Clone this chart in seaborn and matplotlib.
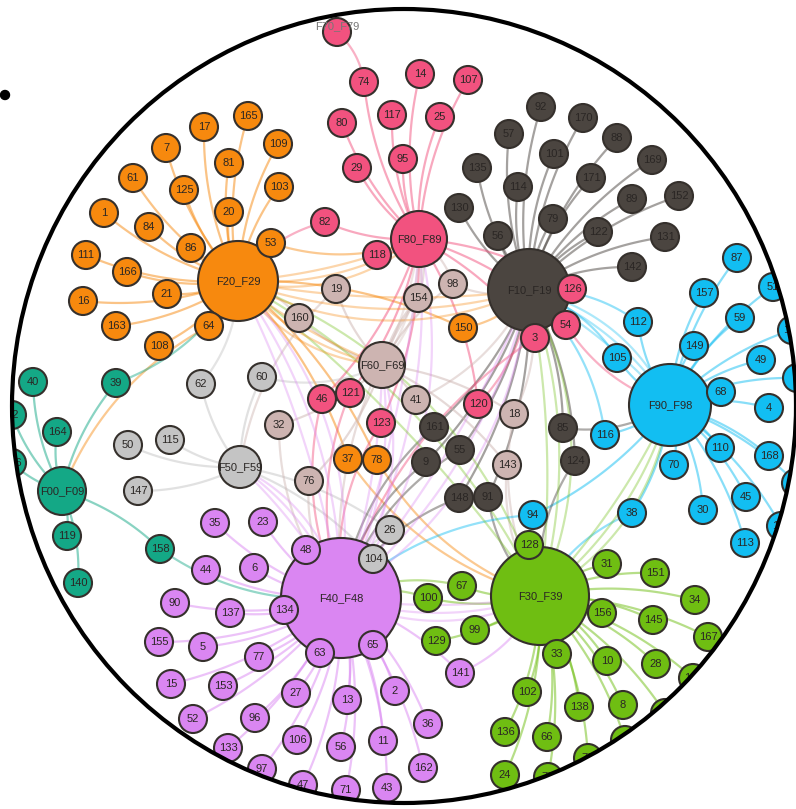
import numpy as np
import pandas as pd
import matplotlib
matplotlib.use("Agg")
import matplotlib.pyplot as plt
from matplotlib.patches import Ellipse, Circle, PathPatch
from matplotlib.path import Path
from matplotlib.collections import LineCollection
from matplotlib.colors import to_rgba
import seaborn as sns

sns.set_theme(style="white")
plt.rcParams["font.family"] = ["Liberation Sans", "DejaVu Sans"]

# ---- diagnosis-block hubs (layout position in px, radius in px) ----
HUB_NAMES = ["F00_F09", "F10_F19", "F20_F29", "F30_F39", "F40_F48",
             "F50_F59", "F60_F69", "F70_F79", "F80_F89", "F90_F98"]
HUB_POS = [(62, 491), (529, 290), (238, 281), (540, 596), (341, 598),
           (240, 467), (382, 365), (337, 32), (419, 239), (670, 405)]
HUB_R = [24, 41, 40, 49, 60, 21, 23, 14, 28, 41]

# ---- leaf nodes per block ----
F00_LEAVES = ["40", "39", "164", "119", "140", "158", "12", "146"]
F00_POS = [(33, 382), (116, 383), (57, 432), (67, 536), (78, 583),
           (160, 549), (12, 415), (12, 463)]

F10_LEAVES = ["92", "170", "88", "101", "169", "171", "89", "152", "79",
              "122", "131", "142", "57", "135", "114", "130", "56", "161",
              "55", "9", "148", "91", "85", "124"]
F10_POS = [(541, 107), (583, 118), (617, 138), (554, 154), (652, 160),
           (591, 178), (632, 199), (679, 196), (553, 219), (598, 232),
           (665, 237), (632, 267), (509, 134), (477, 168), (518, 187),
           (459, 208), (498, 236), (434, 427), (460, 450), (426, 462),
           (459, 498), (488, 497), (563, 428), (575, 461)]

F20_LEAVES = ["165", "17", "7", "81", "61", "125", "20", "1", "84", "86",
              "111", "109", "103", "53", "166", "16", "21", "163", "64",
              "108", "150", "37", "78"]
F20_POS = [(248, 116), (204, 127), (166, 148), (229, 163), (133, 178),
           (184, 190), (229, 212), (104, 213), (149, 227), (191, 248),
           (86, 255), (278, 144), (279, 187), (271, 243), (127, 272),
           (83, 301), (167, 294), (116, 326), (209, 326), (159, 346),
           (463, 328), (348, 459), (377, 460)]

F30_LEAVES = ["128", "31", "151", "34", "156", "145", "167", "33", "10",
              "28", "132", "102", "138", "8", "42", "66", "22", "72", "73",
              "136", "24", "100", "67", "99", "129"]
F30_POS = [(529, 545), (607, 564), (655, 573), (695, 600), (602, 613),
           (653, 620), (708, 637), (557, 654), (607, 661), (656, 664),
           (693, 678), (527, 692), (579, 707), (623, 705), (665, 713),
           (547, 737), (625, 740), (588, 758), (548, 777), (505, 732),
           (505, 775), (428, 598), (462, 586), (475, 630), (436, 641)]

F40_LEAVES = ["35", "23", "44", "6", "90", "137", "155", "5", "77", "15",
              "153", "52", "96", "133", "97", "48", "134", "63", "65", "27",
              "13", "2", "36", "106", "56", "11", "162", "47", "71", "43",
              "141"]
F40_POS = [(215, 523), (263, 522), (206, 570), (254, 568), (175, 603),
           (230, 613), (159, 642), (203, 647), (259, 657), (171, 684),
           (223, 686), (193, 719), (255, 718), (228, 748), (262, 769),
           (306, 550), (284, 610), (320, 653), (373, 645), (296, 693),
           (347, 700), (395, 691), (428, 724), (297, 740), (341, 747),
           (383, 741), (423, 768), (303, 785), (346, 790), (387, 788),
           (460, 673)]

F50_LEAVES = ["62", "60", "50", "115", "147", "26", "104"]
F50_POS = [(201, 384), (262, 377), (128, 445), (170, 440), (138, 491),
           (390, 530), (373, 559)]

F60_LEAVES = ["19", "154", "98", "160", "41", "18", "143", "32", "76"]
F60_POS = [(336, 289), (418, 298), (453, 284), (299, 318), (416, 400),
           (514, 414), (507, 465), (279, 425), (309, 481)]

F80_LEAVES = ["74", "14", "107", "80", "117", "25", "29", "95", "82",
              "118", "126", "54", "3", "46", "121", "123", "120"]
F80_POS = [(364, 82), (420, 74), (468, 80), (342, 123), (392, 115),
           (440, 117), (357, 168), (403, 159), (325, 222), (377, 255),
           (572, 289), (566, 325), (535, 338), (322, 399), (350, 393),
           (381, 423), (478, 404)]

# nodes cut by the right rim carry an empty label
F90_LEAVES = ["87", "157", "51", "112", "59", "14", "149", "105", "49",
              "68", "4", "", "116", "110", "168", "", "70", "45",
              "94", "38", "30", "127", "113"]
F90_POS = [(737, 258), (704, 293), (773, 287), (638, 322), (740, 318),
           (792, 330), (694, 346), (617, 358), (761, 360), (721, 392),
           (769, 408), (797, 378), (605, 435), (720, 448), (769, 456),
           (796, 483), (674, 465), (746, 497), (533, 515), (632, 513),
           (703, 510), (781, 526), (745, 543)]

LEAVES = {
    "F00_F09": (F00_LEAVES, F00_POS), "F10_F19": (F10_LEAVES, F10_POS),
    "F20_F29": (F20_LEAVES, F20_POS), "F30_F39": (F30_LEAVES, F30_POS),
    "F40_F48": (F40_LEAVES, F40_POS), "F50_F59": (F50_LEAVES, F50_POS),
    "F60_F69": (F60_LEAVES, F60_POS), "F80_F89": (F80_LEAVES, F80_POS),
    "F90_F98": (F90_LEAVES, F90_POS),
}

# links from a leaf to a second block
CROSS_LINKS = [
    ("F20_F29", "53", "F80_F89"),
    ("F20_F29", "150", "F10_F19"), ("F20_F29", "37", "F30_F39"),
    ("F20_F29", "78", "F30_F39"), ("F20_F29", "64", "F00_F09"),
    ("F80_F89", "82", "F20_F29"), ("F80_F89", "46", "F40_F48"),
    ("F80_F89", "121", "F40_F48"), ("F80_F89", "123", "F40_F48"),
    ("F80_F89", "120", "F10_F19"), ("F80_F89", "54", "F90_F98"),
    ("F80_F89", "126", "F10_F19"), ("F80_F89", "3", "F40_F48"),
    ("F60_F69", "154", "F80_F89"), ("F60_F69", "154", "F40_F48"),
    ("F60_F69", "98", "F80_F89"), ("F60_F69", "98", "F10_F19"),
    ("F60_F69", "41", "F10_F19"), ("F60_F69", "18", "F10_F19"),
    ("F60_F69", "18", "F30_F39"), ("F60_F69", "143", "F30_F39"),
    ("F60_F69", "32", "F40_F48"), ("F60_F69", "76", "F40_F48"),
    ("F60_F69", "160", "F20_F29"), ("F60_F69", "19", "F50_F59"),
    ("F10_F19", "161", "F40_F48"), ("F10_F19", "55", "F40_F48"),
    ("F10_F19", "9", "F40_F48"), ("F10_F19", "148", "F40_F48"),
    ("F10_F19", "91", "F30_F39"), ("F10_F19", "85", "F90_F98"),
    ("F10_F19", "124", "F30_F39"),
    ("F90_F98", "94", "F30_F39"), ("F90_F98", "94", "F40_F48"),
    ("F90_F98", "116", "F10_F19"), ("F90_F98", "105", "F10_F19"),
    ("F90_F98", "112", "F10_F19"), ("F90_F98", "38", "F30_F39"),
    ("F50_F59", "26", "F40_F48"), ("F50_F59", "104", "F40_F48"),
    ("F50_F59", "62", "F20_F29"), ("F50_F59", "60", "F60_F69"),
    ("F00_F09", "39", "F20_F29"), ("F00_F09", "158", "F40_F48"),
    ("F30_F39", "100", "F40_F48"), ("F30_F39", "67", "F40_F48"),
    ("F40_F48", "141", "F30_F39"), ("F80_F89", "74", "F70_F79"),
]

# links between blocks
HUB_LINKS = [
    ("F40_F48", "F10_F19"), ("F40_F48", "F80_F89"), ("F30_F39", "F10_F19"),
    ("F30_F39", "F20_F29"), ("F90_F98", "F10_F19"), ("F30_F39", "F90_F98"),
    ("F20_F29", "F80_F89"), ("F20_F29", "F10_F19"), ("F40_F48", "F50_F59"),
    ("F40_F48", "F60_F69"), ("F60_F69", "F80_F89"), ("F40_F48", "F30_F39"),
    ("F20_F29", "F60_F69"), ("F40_F48", "F20_F29"),
]

PALETTE = {
    "F00_F09": "#14A886", "F10_F19": "#4B4540", "F20_F29": "#F7890E",
    "F30_F39": "#6FBE12", "F40_F48": "#DA86F2", "F50_F59": "#C4C4C4",
    "F60_F69": "#CDB4B1", "F70_F79": "#F2527F", "F80_F89": "#F2527F",
    "F90_F98": "#12BEF2",
}

# ---- node table ----
rows = []
for name, (hx, hy), r in zip(HUB_NAMES, HUB_POS, HUB_R):
    rows.append(dict(key=name, label=name, group=name, x=hx, y=hy, r=r, hub=True))
for grp, (labels, pos) in LEAVES.items():
    for i, (lab, (lx, ly)) in enumerate(zip(labels, pos)):
        key = f"{grp}:{lab}" if lab else f"{grp}:#{i}"
        rows.append(dict(key=key, label=lab, group=grp,
                         x=lx, y=ly, r=14, hub=False))
nodes = pd.DataFrame(rows)
PX2PT = 72 / 100
nodes["area"] = (2 * nodes["r"] * PX2PT) ** 2
xy = {k: (x, y) for k, x, y in zip(nodes["key"], nodes["x"], nodes["y"])}


def bezier(p0, p2, bend, n=40):
    p0 = np.asarray(p0, float)
    p2 = np.asarray(p2, float)
    d = p2 - p0
    c = (p0 + p2) / 2 + bend * np.array([-d[1], d[0]])
    t = np.linspace(0, 1, n)[:, None]
    return (1 - t) ** 2 * p0 + 2 * (1 - t) * t * c + t ** 2 * p2


segs, cols = [], []
for _, row in nodes[~nodes["hub"]].iterrows():
    segs.append(bezier((row["x"], row["y"]), xy[row["group"]], 0.12))
    cols.append(to_rgba(PALETTE[row["group"]], 0.5))
for grp, lab, target in CROSS_LINKS:
    segs.append(bezier(xy[f"{grp}:{lab}"], xy[target], 0.18))
    cols.append(to_rgba(PALETTE[grp], 0.45))
for a, b in HUB_LINKS:
    for bend in (0.08, 0.16, 0.24):
        segs.append(bezier(xy[a], xy[b], bend))
        cols.append(to_rgba(PALETTE[a], 0.35))

# ---- figure ----
W, H = 796, 809
CX, CY, EW, EH = 404, 406, 784, 794

fig = plt.figure(figsize=(W / 100, H / 100), dpi=100)
ax = fig.add_axes([0, 0, 1, 1])
ax.set_xlim(0, W)
ax.set_ylim(H, 0)
ax.set_aspect("equal")
ax.axis("off")

lc = LineCollection(segs, colors=cols, linewidths=1.6, zorder=1)
ax.add_collection(lc)

amin, amax = nodes["area"].min(), nodes["area"].max()
sns.scatterplot(data=nodes, x="x", y="y", hue="group", palette=PALETTE,
                size="area", sizes=(amin, amax), size_norm=(amin, amax),
                edgecolor="#35302c", linewidth=1.5, legend=False, ax=ax,
                zorder=3)

for _, row in nodes.iterrows():
    if not row["label"]:
        continue
    if row["label"] == "F70_F79":
        ax.text(row["x"], row["y"] - 6, row["label"], ha="center",
                va="center", fontsize=8, color="#777777", zorder=5)
    elif row["x"] + 8 > W:
        ax.text(W - 1, row["y"], row["label"], ha="right",
                va="center", fontsize=8, color="#2a2624", zorder=5)
    else:
        ax.text(row["x"], row["y"], row["label"], ha="center",
                va="center", fontsize=8, color="#2a2624", zorder=5)

# white frame outside the round viewport
theta = np.linspace(0, 2 * np.pi, 400)
ring = np.column_stack([CX + EW / 2 * np.cos(theta), CY + EH / 2 * np.sin(theta)])
outer = np.array([[-10, -10], [W + 10, -10], [W + 10, H + 10], [-10, H + 10], [-10, -10]])
verts = np.vstack([outer, ring[::-1]])
codes = ([Path.MOVETO] + [Path.LINETO] * 3 + [Path.CLOSEPOLY]
         + [Path.MOVETO] + [Path.LINETO] * (len(ring) - 2) + [Path.CLOSEPOLY])
ax.add_patch(PathPatch(Path(verts, codes), facecolor="white",
                       edgecolor="none", zorder=8))

ax.add_patch(Ellipse((CX, CY), EW, EH, fill=False, edgecolor="black",
                     linewidth=3, zorder=10))
ax.add_patch(Circle((5, 95), 4.5, color="black", zorder=10))

fig.savefig("out.png", dpi=100)
